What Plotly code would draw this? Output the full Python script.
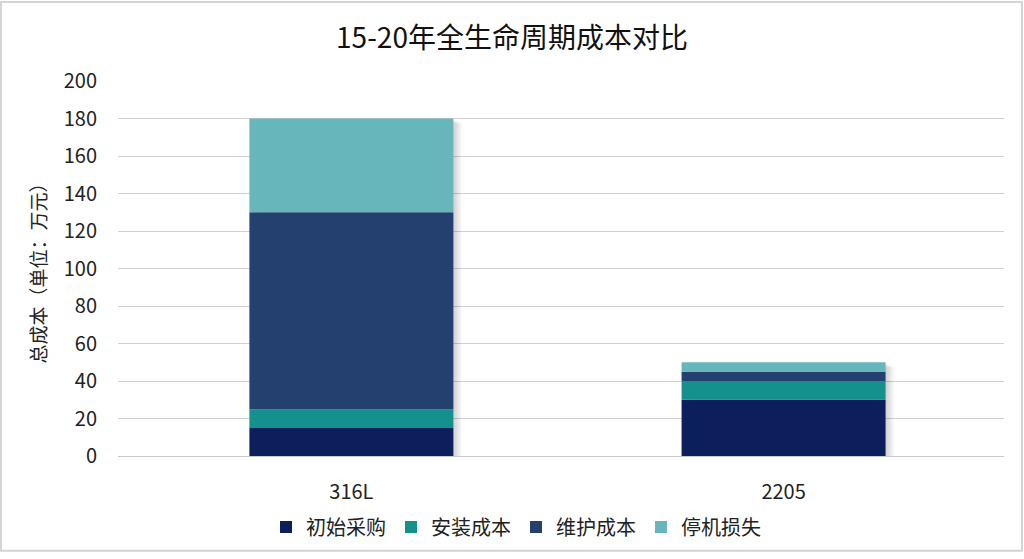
import plotly.graph_objects as go

categories = ["316L", "2205"]
series_names = ["初始采购", "安装成本", "维护成本", "停机损失"]
initial_purchase = [15, 30]
installation = [10, 10]
maintenance = [105, 5]
downtime = [50, 5]
colors = ["#0c1f5c", "#14908d", "#24406f", "#66b6bc"]
y_ticks = [0, 20, 40, 60, 80, 100, 120, 140, 160, 180, 200]

FONT = "Noto Sans CJK SC"
L, R, T, B = 118, 20, 81, 98
PW, PH = 1024 - L - R, 559 - T - B
XR = [-0.54, 1.51]
BW = 0.472
px_x = (XR[1] - XR[0]) / PW
px_y = 200 / PH

series = [initial_purchase, installation, maintenance, downtime]
totals = [sum(v) for v in zip(*series)]

fig = go.Figure()

# soft drop shadow, drawn beneath the bars
for shift in [2, 4, 6, 8]:
    fig.add_trace(go.Bar(
        x=categories, y=[t - shift * 0.6 * px_y for t in totals],
        width=BW, offset=-BW / 2 + shift * px_x,
        marker=dict(color="rgba(0,0,0,0.045)", line=dict(width=0)),
        showlegend=False, hoverinfo="skip",
    ))

# stacked segments (explicit bases, overlay mode)
running = [0] * len(categories)
for name, vals, col in zip(series_names, series, colors):
    fig.add_trace(go.Bar(
        x=categories, y=vals, base=list(running), name=name,
        marker=dict(color=col, line=dict(width=0)),
        width=BW, offset=-BW / 2,
    ))
    running = [r + v for r, v in zip(running, vals)]

fig.update_layout(
    barmode="overlay",
    width=1024, height=559,
    paper_bgcolor="white", plot_bgcolor="white",
    font=dict(family=FONT, color="#222222", size=20),
    title=dict(text="15-20年全生命周期成本对比", x=0.5, xanchor="center",
               y=1 - 38 / 559, yanchor="middle",
               font=dict(family=FONT, size=28, color="#111111")),
    margin=dict(l=L, r=R, t=T, b=B),
    xaxis=dict(range=XR, showgrid=False, showline=True,
               linecolor="#c8c8c8", linewidth=1, ticks="",
               ticklabelstandoff=18,
               tickfont=dict(size=20, color="#222222")),
    yaxis=dict(range=[0, 200], tickvals=y_ticks, showgrid=True,
               gridcolor="#d0d0d0", gridwidth=1, zeroline=False,
               ticks="", ticklabelstandoff=20,
               tickfont=dict(size=20, color="#222222"),
               title=dict(text="总成本（单位：万元）", standoff=12,
                          font=dict(size=19, color="#222222"))),
    legend=dict(orientation="h", x=(516 - L) / PW, xanchor="center",
                y=-72 / PH, yanchor="middle",
                font=dict(size=20, color="#222222"),
                traceorder="normal", itemwidth=30),
    shapes=[dict(type="rect", xref="paper", yref="paper",
                 x0=(1 - L) / PW, x1=1 + (R - 2) / PW,
                 y0=-(B - 2) / PH, y1=1 + (T - 1) / PH,
                 line=dict(color="#d4d4d4", width=2))],
)

fig.write_html("out.html",
               config={"displayModeBar": False},
               post_script="document.body.style.margin='0';document.body.style.overflow='hidden';")
